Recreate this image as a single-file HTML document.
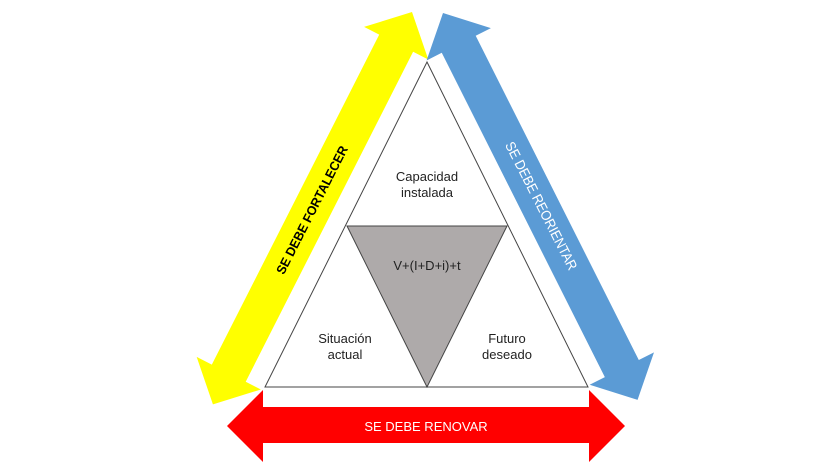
<!DOCTYPE html>
<html><head><meta charset="utf-8"><style>html,body{margin:0;padding:0;background:#fff;width:840px;height:472px;overflow:hidden}</style></head>
<body>
<svg width="840" height="472" viewBox="0 0 840 472" xmlns="http://www.w3.org/2000/svg" font-family="Liberation Sans, sans-serif">
<g transform="translate(412,12) rotate(116.9)">
<polygon fill="#ffff00" points="0,0 35,-36 35,-19 405,-19 405,-36 440,0 405,36 405,19 35,19 35,36"/>
</g>
<g transform="translate(443,13) rotate(63.3)">
<polygon fill="#5b9bd5" points="0,0 35,-36 35,-19 398,-19 398,-36 433,0 398,36 398,19 35,19 35,36"/>
</g>
<polygon fill="#ff0000" points="227,426 263,390 263,407 589,407 589,390 625,426 589,462 589,443 263,443 263,462"/>
<polygon points="427,62 588,387 265,387" fill="#fff" stroke="#444" stroke-width="1"/>
<polygon points="347,226 507,226 427,387" fill="#aeaaaa" stroke="#444" stroke-width="1"/>
<g font-size="13" fill="#222" text-anchor="middle">
<text x="427" y="181">Capacidad</text><text x="427" y="197">instalada</text>
<text x="427" y="270">V+(I+D+i)+t</text>
<text x="345" y="343">Situación</text><text x="345" y="359">actual</text>
<text x="507" y="343">Futuro</text><text x="507" y="359">deseado</text>
<text x="426" y="431" fill="#fff">SE DEBE RENOVAR</text>
</g>
<text x="0" y="0" transform="translate(316,212) rotate(-63)" font-size="13" font-weight="bold" text-anchor="middle" fill="#000" textLength="142" lengthAdjust="spacingAndGlyphs">SE DEBE FORTALECER</text>
<text x="0" y="0" transform="translate(537,208) rotate(63)" font-size="14" text-anchor="middle" fill="#fff" textLength="142" lengthAdjust="spacingAndGlyphs">SE DEBE REORIENTAR</text>
</svg>
</body></html>
